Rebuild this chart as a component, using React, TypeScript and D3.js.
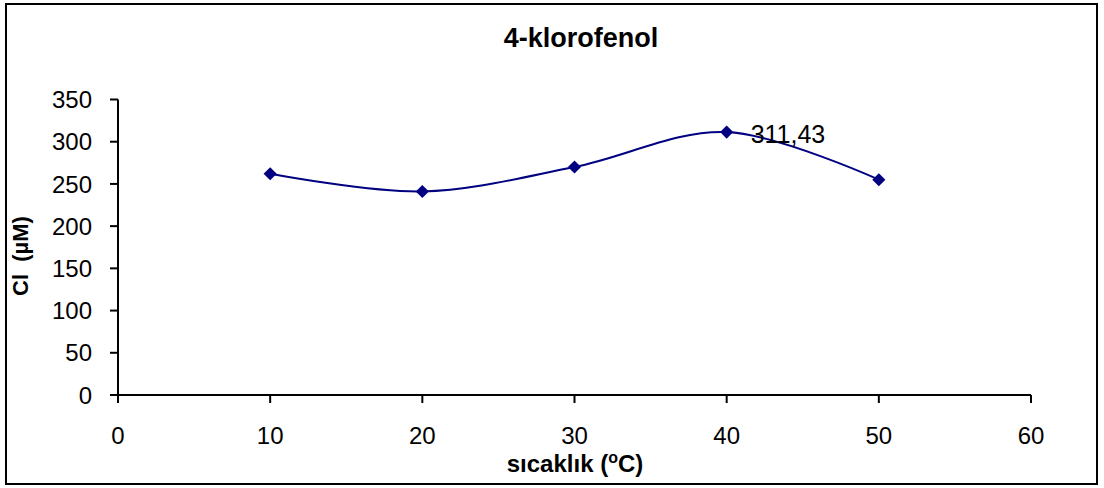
import React from "react";
import * as d3 from "d3";

const temps = [10, 20, 30, 40, 50];
const clValues = [262, 241, 270, 311.43, 255];
const xTicks = [0, 10, 20, 30, 40, 50, 60];
const yTicks = [0, 50, 100, 150, 200, 250, 300, 350];
const labelIndex = 3;
const labelText = "311,43";

const W = 1104;
const H = 488;

export default function App() {
  const x = d3.scaleLinear().domain([0, 60]).range([118, 1031]);
  const y = d3.scaleLinear().domain([0, 350]).range([395, 99.5]);
  const line = d3
    .line<number>()
    .x((_, i) => x(temps[i]))
    .y((d) => y(d))
    .curve(d3.curveCardinal.tension(0));
  const font = "'Liberation Sans', Arial, sans-serif";
  const diamond = d3.symbol().type(d3.symbolDiamond2).size(110)();
  return (
    <svg
      width={W}
      height={H}
      style={{ position: "absolute", left: 0, top: 0, background: "#fff" }}
      fontFamily={font}
    >
      <rect x={6} y={4} width={1091} height={480} fill="#fff" stroke="#000" strokeWidth={2} />
      <text x={581} y={47} textAnchor="middle" fontWeight="bold" fontSize={27}>
        4-klorofenol
      </text>
      {/* y axis */}
      <line x1={x(0)} x2={x(0)} y1={y(0)} y2={y(350)} stroke="#000" strokeWidth={2} />
      {yTicks.map((t) => (
        <g key={t}>
          <line x1={x(0) - 8} x2={x(0)} y1={y(t)} y2={y(t)} stroke="#000" strokeWidth={2} />
          <text x={92} y={y(t)} dy="0.36em" textAnchor="end" fontSize={24}>
            {t}
          </text>
        </g>
      ))}
      {/* x axis */}
      <line x1={x(0)} x2={x(60)} y1={y(0)} y2={y(0)} stroke="#000" strokeWidth={2} />
      {xTicks.map((t) => (
        <g key={t}>
          <line x1={x(t)} x2={x(t)} y1={y(0)} y2={y(0) + 8} stroke="#000" strokeWidth={2} />
          <text x={x(t)} y={444} textAnchor="middle" fontSize={24}>
            {t}
          </text>
        </g>
      ))}
      <text x={575} y={472} textAnchor="middle" fontWeight="bold" fontSize={24}>
        sıcaklık (<tspan fontSize={16} dy={-9}>o</tspan>
        <tspan dy={9}>C)</tspan>
      </text>
      <text
        transform={`translate(28,256) rotate(-90)`}
        textAnchor="middle"
        fontWeight="bold"
        fontSize={22}
        style={{ whiteSpace: "pre" }}
      >
        {"Cl  (µM)"}
      </text>
      <path d={line(clValues) || ""} fill="none" stroke="#000080" strokeWidth={2} />
      {clValues.map((v, i) => (
        <path
          key={i}
          d={diamond || ""}
          transform={`translate(${x(temps[i])},${y(v)})`}
          fill="#000080"
        />
      ))}
      <text x={x(temps[labelIndex]) + 24} y={y(clValues[labelIndex]) + 11} fontSize={25}>
        {labelText}
      </text>
    </svg>
  );
}
